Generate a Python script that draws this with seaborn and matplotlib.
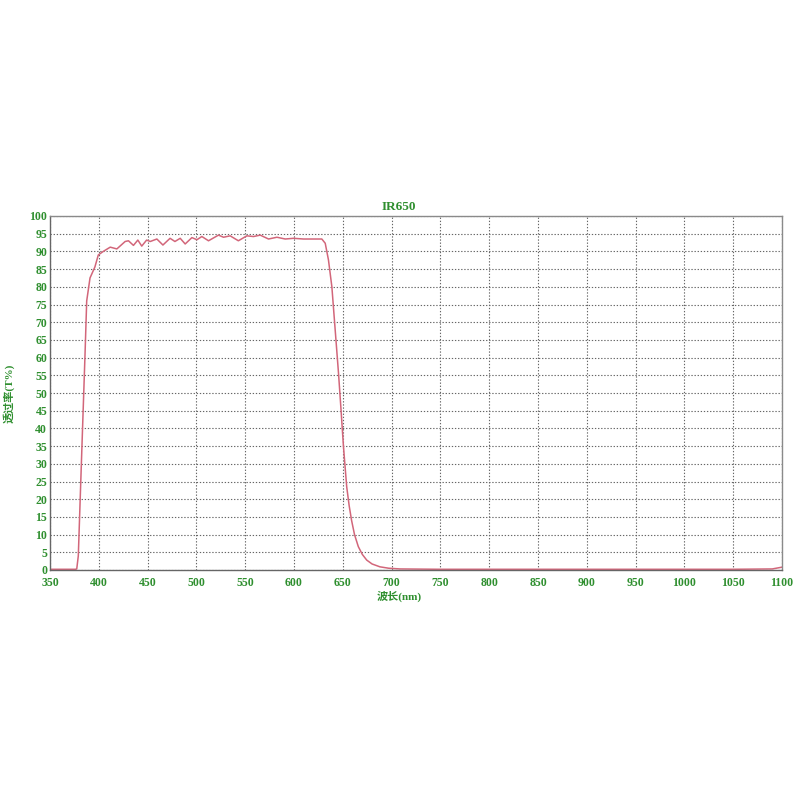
import numpy as np
import pandas as pd
import matplotlib
matplotlib.use("Agg")
import matplotlib.pyplot as plt
import seaborn as sns

# Transmission curve (nm, %)
wavelength = [350, 370, 376, 377.4, 379, 382.5, 385.9, 387.6, 391, 396, 399.5,
              404.6, 411.7, 418.5, 427, 430.4, 435.5, 440, 444, 449, 452.7,
              459.5, 465.7, 473, 478, 483.4, 488.5, 495.4, 500.5, 505.6, 512.4,
              522.6, 527.8, 534.6, 543, 551.7, 558.5, 565.4, 573.9, 582.5, 591,
              599.5, 609.7, 620, 628.5, 632, 635.3, 638.8, 642.2, 645.6, 648,
              650.7, 654, 656.5, 659, 662, 665.9, 670, 674.5, 680, 688, 697,
              708.6, 750, 800, 850, 900, 950, 1000, 1050, 1090, 1100]
transmission = [0.2, 0.2, 0.2, 0.3, 4, 33, 61, 76, 82.5, 85.6, 89,
                90, 91.2, 90.7, 92.8, 93, 91.7, 93.2, 91.5, 93.2, 92.8,
                93.5, 91.8, 93.7, 92.8, 93.7, 92.1, 93.9, 93.3, 94.2, 93,
                94.6, 94, 94.4, 93, 94.4, 94.2, 94.6, 93.5, 94, 93.5,
                93.7, 93.5, 93.5, 93.5, 92.3, 87.6, 80, 67.8, 55.6, 46,
                34.8, 23.5, 18.2, 14, 10, 6.6, 4.4, 2.8, 1.7, 0.9, 0.5,
                0.3, 0.2, 0.2, 0.2, 0.2, 0.2, 0.2, 0.2, 0.3, 0.8]

x_ticks = list(range(350, 1101, 50))
y_ticks = list(range(0, 101, 5))

title = "IR650"
x_label = "波长(nm)"
y_label = "透过率(T%)"

green = "#2f8f2f"
line_color = "#d2667a"

sns.set_style("white")
plt.rcParams['font.family'] = ['Liberation Serif', 'Noto Sans CJK SC', 'DejaVu Sans']

df = pd.DataFrame({"wavelength": wavelength, "transmission": transmission})

fig = plt.figure(figsize=(8, 8), dpi=100)
ax = fig.add_axes([0.0625, 0.2875, 0.915, 0.4425])

sns.lineplot(data=df, x="wavelength", y="transmission", ax=ax,
             color=line_color, linewidth=1.1)

ax.set_xlim(350, 1100)
ax.set_ylim(0, 100)
ax.set_xticks(x_ticks)
ax.set_yticks(y_ticks)
ax.grid(True, linestyle=(0, (1.2, 1.6)), color="#666666", linewidth=0.8)
ax.tick_params(axis="both", length=0, labelsize=8.5, labelcolor=green)
ax.tick_params(axis="x", pad=5)
ax.tick_params(axis="y", pad=2)
for lbl in ax.get_xticklabels() + ax.get_yticklabels():
    lbl.set_fontweight("bold")

for s in ax.spines.values():
    s.set_color("#8a8a8a")
    s.set_linewidth(1.0)
ax.spines["left"].set_color("#666666")
ax.spines["bottom"].set_color("#666666")

ax.set_title(title, color=green, fontsize=9.5, fontweight="bold", pad=4, x=0.477)
ax.set_xlabel(x_label, color=green, fontsize=8, fontweight="bold")
ax.xaxis.set_label_coords(0.477, -0.058)
ax.set_ylabel(y_label, color=green, fontsize=8, fontweight="bold")
ax.yaxis.set_label_coords(-0.048, 0.5)

fig.savefig("out.png", dpi=100)
